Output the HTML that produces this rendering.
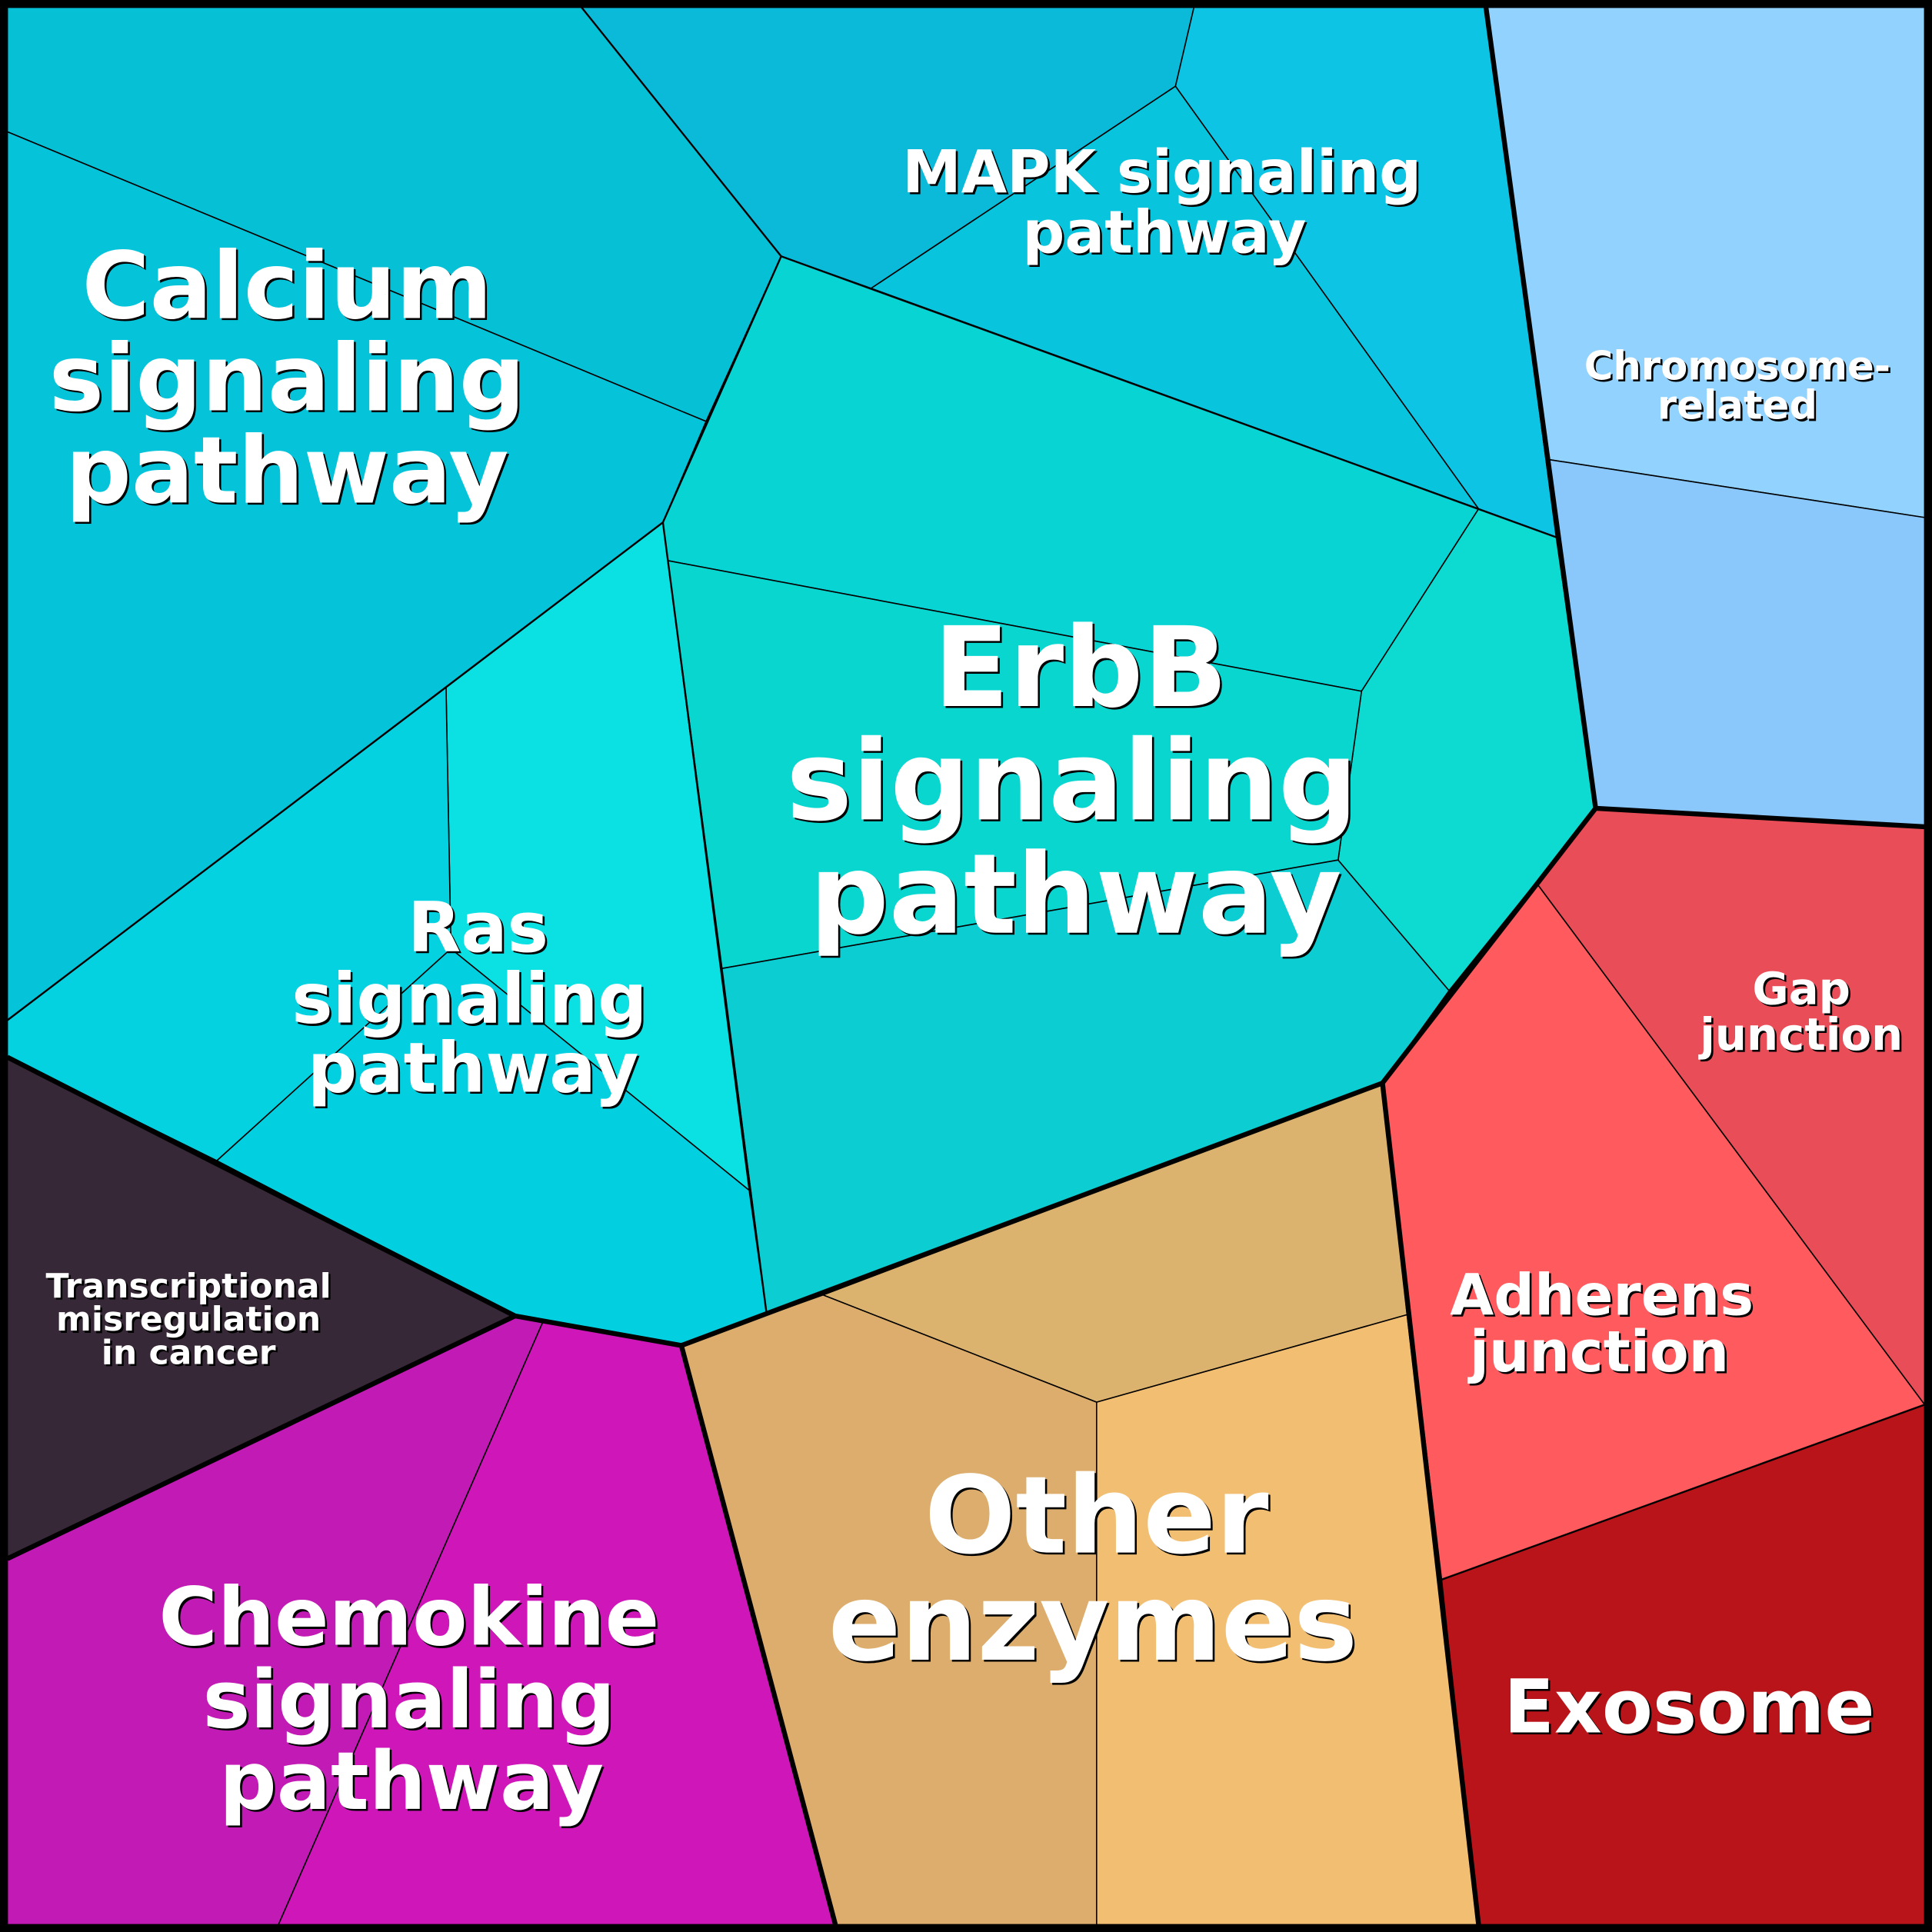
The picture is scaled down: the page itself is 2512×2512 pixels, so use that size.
<!DOCTYPE html>
<html><head><meta charset="utf-8"><style>
html,body{margin:0;padding:0;background:#000;}
svg{display:block;}
text{font-family:"DejaVu Sans","Liberation Sans",sans-serif;font-weight:bold;text-anchor:middle;}
</style></head><body>
<svg width="2512" height="2512" viewBox="0 0 1568 1568" xmlns="http://www.w3.org/2000/svg">
<rect x="0" y="0" width="1568" height="1568" fill="#000"/>
<g stroke="#000" stroke-width="1" stroke-linejoin="round">
<polygon points="6,6 472,6 634,208 573,342 6,107" fill="#06c0d6"/>
<polygon points="6,107 573,342 538,424 6,828" fill="#05c4da"/>
<polygon points="472,6 969,6 954,70 707,234 634,208" fill="#0bb9d8"/>
<polygon points="969,6 1206,6 1263,436 1200,413 954,70" fill="#0ec4e4"/>
<polygon points="707,234 954,70 1200,413" fill="#08c4dc"/>
<polygon points="634,208 1200,413 1105,561 542,455 538,424" fill="#08d4d4"/>
<polygon points="1200,413 1263,436 1295,656 1176,804 1086,698 1105,561" fill="#0ddad0"/>
<polygon points="542,455 1105,561 1086,698 586,786" fill="#0ad6d0"/>
<polygon points="586,786 1086,698 1176,804 1122,879 622,1065" fill="#0ccdd2"/>
<polygon points="362,558 538,424 608,966 366,770" fill="#0be0e2"/>
<polygon points="6,828 362,558 366,770 176,942 6,858" fill="#05d2e0"/>
<polygon points="176,942 366,770 608,966 622,1065 553,1092 418,1068" fill="#02d0e0"/>
<polygon points="6,858 418,1068 6,1265" fill="#372837"/>
<polygon points="418,1068 441,1072 226,1562 6,1562 6,1265" fill="#c21ab4"/>
<polygon points="441,1072 553,1092 678,1562 226,1562" fill="#cf17b9"/>
<polygon points="668,1051 1122,879 1142,1067 890,1138" fill="#dcb36e"/>
<polygon points="553,1092 668,1051 890,1138 890,1562 678,1562" fill="#dcad6c"/>
<polygon points="890,1138 1142,1067 1200,1562 890,1562" fill="#f2be72"/>
<polygon points="1295,656 1562,671 1562,1140 1248,718" fill="#e94d57"/>
<polygon points="1122,879 1248,718 1562,1140 1170,1282" fill="#ff5a5e"/>
<polygon points="1170,1282 1562,1140 1562,1562 1200,1562" fill="#b81419"/>
<polygon points="1206,6 1562,6 1562,420 1257,373" fill="#92d2fe"/>
<polygon points="1257,373 1562,420 1562,671 1295,656" fill="#8ac8fc"/>
</g>
<g fill="none" stroke="#000" stroke-width="1.5" stroke-linejoin="round">
<polyline points="472,6 634,208 538,424 6,828"/>
<polyline points="634,208 1263,436"/>
<polyline points="538,424 622,1065"/>
<polyline points="1170,1282 1562,1140"/>
</g>
<g fill="none" stroke="#000" stroke-width="4" stroke-linejoin="round">
<polyline points="1206,6 1295,656 1562,671"/>
<polyline points="1295,656 1122,879 553,1092 418,1068 6,858"/>
<polyline points="418,1068 6,1265"/>
<polyline points="553,1092 678,1562"/>
<polyline points="1122,879 1200,1562"/>
<rect x="4" y="4" width="1560" height="1560"/>
</g>
<g fill="#000" transform="translate(1.6,1.6)">
<text font-size="75" x="233" y="258">Calcium</text><text font-size="75" x="233" y="333">signaling</text><text font-size="75" x="233" y="408">pathway</text>
<text font-size="48" x="943" y="156">MAPK signaling</text><text font-size="48" x="945" y="205">pathway</text>
<text font-size="32" x="1410" y="308">Chromosome-</text><text font-size="32" x="1410" y="340">related</text>
<text font-size="90" x="877" y="573">ErbB</text><text font-size="90" x="870" y="665">signaling</text><text font-size="90" x="873" y="757">pathway</text>
<text font-size="56" x="388" y="772">Ras</text><text font-size="56" x="381" y="830">signaling</text><text font-size="56" x="384" y="886">pathway</text>
<text font-size="36" x="1462" y="815">Gap</text><text font-size="36" x="1462" y="852">junction</text>
<text font-size="27.5" x="153" y="1053">Transcriptional</text><text font-size="27.5" x="153" y="1080">misregulation</text><text font-size="27.5" x="153" y="1107">in cancer</text>
<text font-size="46" x="1300" y="1067">Adherens</text><text font-size="46" x="1298" y="1113">junction</text>
<text font-size="87" x="890" y="1260">Other</text><text font-size="87" x="887" y="1347">enzymes</text>
<text font-size="65" x="332" y="1335">Chemokine</text><text font-size="65" x="332" y="1402">signaling</text><text font-size="65" x="334" y="1468">pathway</text>
<text font-size="60" x="1371" y="1406">Exosome</text>
</g>
<g fill="#fff">
<text font-size="75" x="233" y="258">Calcium</text><text font-size="75" x="233" y="333">signaling</text><text font-size="75" x="233" y="408">pathway</text>
<text font-size="48" x="943" y="156">MAPK signaling</text><text font-size="48" x="945" y="205">pathway</text>
<text font-size="32" x="1410" y="308">Chromosome-</text><text font-size="32" x="1410" y="340">related</text>
<text font-size="90" x="877" y="573">ErbB</text><text font-size="90" x="870" y="665">signaling</text><text font-size="90" x="873" y="757">pathway</text>
<text font-size="56" x="388" y="772">Ras</text><text font-size="56" x="381" y="830">signaling</text><text font-size="56" x="384" y="886">pathway</text>
<text font-size="36" x="1462" y="815">Gap</text><text font-size="36" x="1462" y="852">junction</text>
<text font-size="27.5" x="153" y="1053">Transcriptional</text><text font-size="27.5" x="153" y="1080">misregulation</text><text font-size="27.5" x="153" y="1107">in cancer</text>
<text font-size="46" x="1300" y="1067">Adherens</text><text font-size="46" x="1298" y="1113">junction</text>
<text font-size="87" x="890" y="1260">Other</text><text font-size="87" x="887" y="1347">enzymes</text>
<text font-size="65" x="332" y="1335">Chemokine</text><text font-size="65" x="332" y="1402">signaling</text><text font-size="65" x="334" y="1468">pathway</text>
<text font-size="60" x="1371" y="1406">Exosome</text>
</g>
</svg>
</body></html>
